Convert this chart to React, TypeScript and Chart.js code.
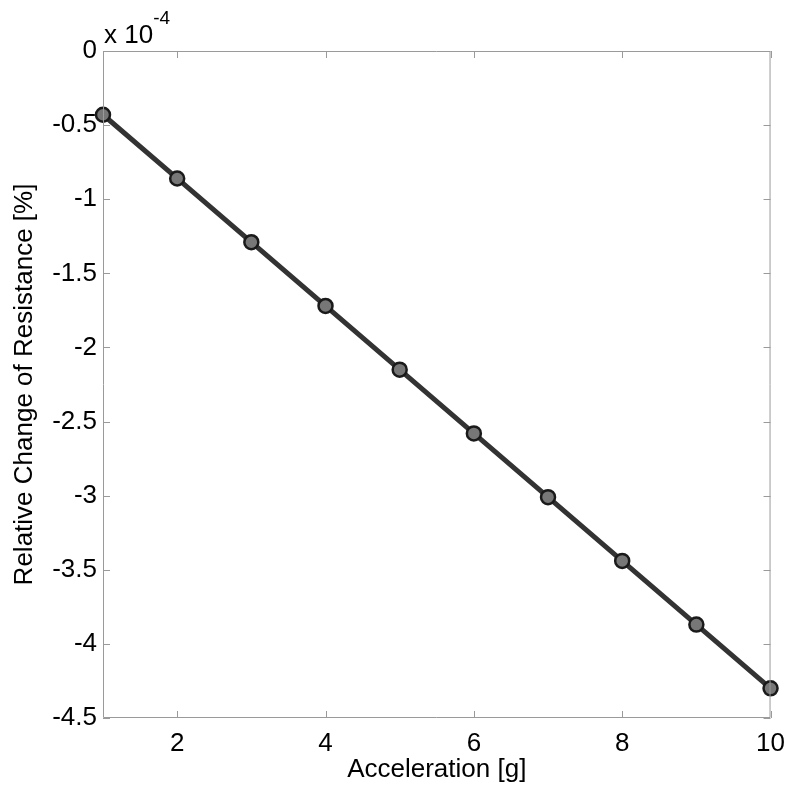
import React, { useEffect, useRef } from "react";
import { Chart, registerables } from "chart.js";

Chart.register(...registerables);

const accelerations = [1, 2, 3, 4, 5, 6, 7, 8, 9, 10];
const resistanceChange = [-0.43, -0.86, -1.29, -1.72, -2.15, -2.58, -3.01, -3.44, -3.87, -4.3];
const xTickValues = [2, 4, 6, 8, 10];
const yTickValues = [0, -0.5, -1, -1.5, -2, -2.5, -3, -3.5, -4, -4.5];
const xTitle = "Acceleration [g]";
const yTitle = "Relative Change of Resistance [%]";
const exponentBase = "x 10";
const exponentPower = "-4";

const FONT = "'Liberation Sans', Arial, sans-serif";

const boxPlugin = {
  id: "matlabBox",
  afterDatasetsDraw(chart: any) {
    const { ctx, chartArea, scales } = chart;
    const { left, right, top, bottom } = chartArea;
    const tl = 7;
    ctx.save();
    ctx.strokeStyle = "#9a9a9a";
    ctx.lineWidth = 1;
    ctx.beginPath();
    ctx.rect(left + 0.5, top + 0.5, right - left - 1, bottom - top - 1);
    ctx.stroke();
    ctx.beginPath();
    for (const v of xTickValues) {
      const px = Math.round(scales.x.getPixelForValue(v)) + 0.5;
      ctx.moveTo(px, bottom);
      ctx.lineTo(px, bottom - tl);
      ctx.moveTo(px, top);
      ctx.lineTo(px, top + tl);
    }
    for (const v of yTickValues) {
      const py = Math.round(scales.y.getPixelForValue(v)) + 0.5;
      ctx.moveTo(left, py);
      ctx.lineTo(left + tl, py);
      ctx.moveTo(right, py);
      ctx.lineTo(right - tl, py);
    }
    ctx.stroke();
    // exponent label
    ctx.fillStyle = "#000";
    ctx.textBaseline = "alphabetic";
    ctx.textAlign = "left";
    ctx.font = `26px ${FONT}`;
    ctx.fillText(exponentBase, left + 1, top - 8);
    const w = ctx.measureText(exponentBase).width;
    ctx.font = `19px ${FONT}`;
    ctx.fillText(exponentPower, left + 1 + w, top - 27);
    ctx.restore();
  },
};

export default function App() {
  const ref = useRef<HTMLCanvasElement | null>(null);
  useEffect(() => {
    if (!ref.current) return;
    const chart = new Chart(ref.current, {
      type: "line",
      data: {
        datasets: [
          {
            data: accelerations.map((a, i) => ({ x: a, y: resistanceChange[i] })),
            borderColor: "#333333",
            borderWidth: 5,
            pointRadius: 7,
            pointBackgroundColor: "#777777",
            pointBorderColor: "#1a1a1a",
            pointBorderWidth: 2.5,
            tension: 0,
            clip: false as any,
          },
        ],
      },
      options: {
        animation: false,
        responsive: false,
        maintainAspectRatio: false,
        layout: { padding: { left: 0, right: 20, top: 51, bottom: 0 } },
        plugins: { legend: { display: false }, tooltip: { enabled: false } },
        scales: {
          x: {
            type: "linear",
            min: 1,
            max: 10,
            afterBuildTicks: (s: any) => {
              s.ticks = xTickValues.map((v) => ({ value: v }));
            },
            afterFit: (s: any) => {
              s.height = 73;
            },
            grid: { display: false, drawTicks: false },
            border: { display: false },
            ticks: {
              padding: 10,
              color: "#000",
              font: { family: FONT, size: 26 },
              maxRotation: 0,
              autoSkip: false,
              callback: (v: any) => String(v),
            },
            title: {
              display: true,
              text: xTitle,
              color: "#000",
              font: { family: FONT, size: 26 },
              padding: { top: 0, bottom: 6 },
            },
          },
          y: {
            type: "linear",
            min: -4.5,
            max: 0,
            afterBuildTicks: (s: any) => {
              s.ticks = yTickValues.map((v) => ({ value: v }));
            },
            afterFit: (s: any) => {
              s.width = 103;
            },
            grid: { display: false, drawTicks: false },
            border: { display: false },
            ticks: {
              padding: 6,
              color: "#000",
              font: { family: FONT, size: 26 },
              autoSkip: false,
              callback: (v: any) => String(v),
            },
            title: {
              display: true,
              text: yTitle,
              color: "#000",
              font: { family: FONT, size: 26 },
              padding: { top: 9, bottom: 0 },
            },
          },
        },
      },
      plugins: [boxPlugin],
    });
    return () => chart.destroy();
  }, []);
  return (
    <div style={{ position: "fixed", left: 0, top: 0, width: 795, height: 791, background: "#fff" }}>
      <canvas ref={ref} width={795} height={791} style={{ width: 795, height: 791 }} />
    </div>
  );
}
